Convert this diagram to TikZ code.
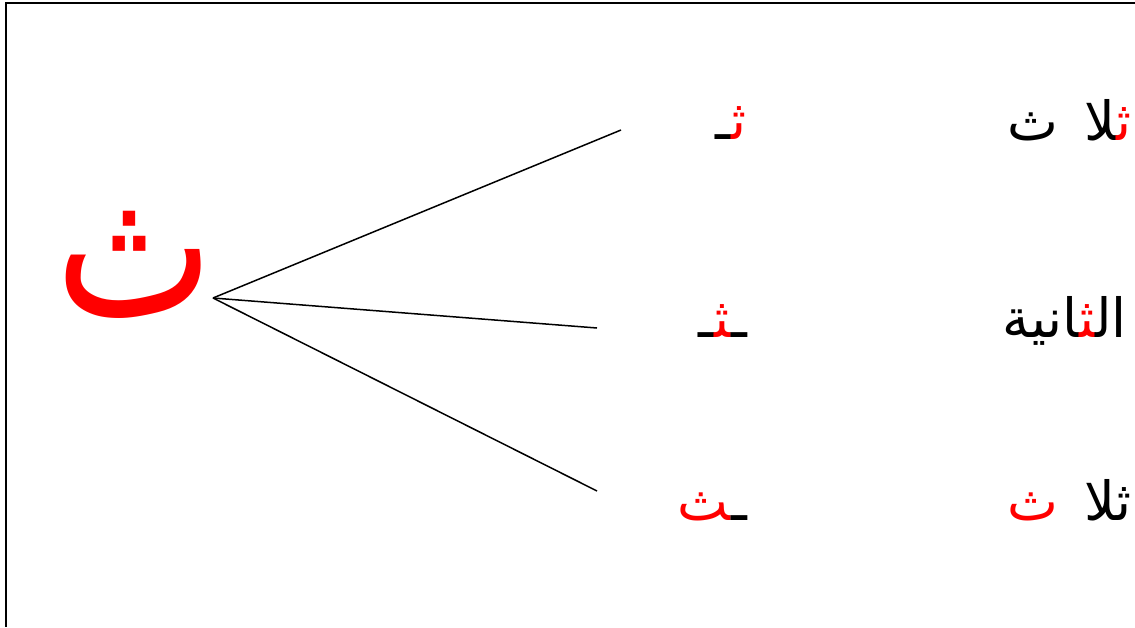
\documentclass[tikz,border=0pt]{standalone}
\usepackage{graphicx}
\usepackage{fontspec}
\usepackage{xcolor}
\newfontfamily\arabicfont[Script=Arabic]{DejaVu Sans}
\newcommand\zj{\char"200D\relax}
\tikzset{
  word/.style={inner sep=0pt, anchor=base east, font=\fontsize{54}{60}\arabicfont},
  form/.style={inner sep=0pt, anchor=base east, font=\fontsize{54}{60}\arabicfont},
  big/.style={inner sep=0pt, anchor=base, text=red, font=\fontsize{185}{190}\arabicfont},
  conn/.style={line width=1.5pt},
  frame/.style={line width=2pt}
}
\begin{document}
\begin{tikzpicture}[x=1pt,y=-1pt]
\useasboundingbox (0,0) rectangle (1135,627);
\draw[frame] (5,3) -- (1135,3);
\draw[frame] (6,3) -- (6,627);
\node[big] (root) at (135,316) {\scalebox{0.91}[1.11]{ث}};
\coordinate (hub) at (213,298);
% forms written in visual (left-to-right) order
\node[form] (f1) at (747,139) {\zj ـ{\color{red}ث\zj}};
\node[form] (f2) at (747,337) {\zj ـ{\color{red}\zj ث\zj}ـ\zj};
\node[form] (f3) at (747,520) {{\color{red}\zj ث}ـ\zj};
\coordinate (e1) at (621,130);
\coordinate (e2) at (597,328);
\coordinate (e3) at (597,491);
\draw[conn] (hub) -- (e1);
\draw[conn] (hub) -- (e2);
\draw[conn] (hub) -- (e3);
\node[word] (w1) at (1132,140) {ث\hspace{26pt}\zj لا{\color{red}ث\zj}};
\node[word] (w2) at (1127,337) {\zj انية{\color{red}\zj ث\zj}ال\zj};
\node[word] (w3) at (1132,520) {{\color{red}ث}\hspace{26pt}ثلا};
\end{tikzpicture}
\end{document}
